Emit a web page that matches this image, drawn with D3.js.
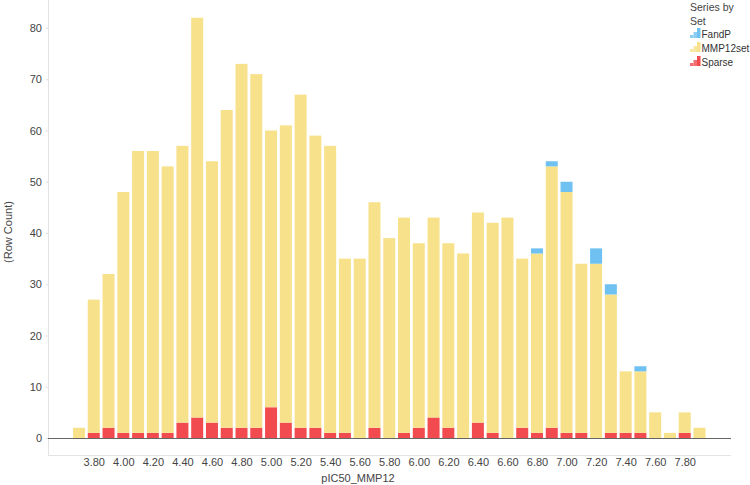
<!DOCTYPE html>
<html>
<head>
<meta charset="utf-8">
<script src="https://cdn.jsdelivr.net/npm/d3@7"></script>
<style>
  body { margin: 0; background: #fff; }
  svg text { font-family: "Liberation Sans", Arial, sans-serif; }
</style>
</head>
<body>
<svg id="chart"></svg>
<script>
// bin centres of pIC50_MMP12
const bins = [3.7, 3.8, 3.9, 4.0, 4.1, 4.2, 4.3, 4.4, 4.5, 4.6, 4.7, 4.8, 4.9, 5.0,
  5.1, 5.2, 5.3, 5.4, 5.5, 5.6, 5.7, 5.8, 5.9, 6.0, 6.1, 6.2, 6.3, 6.4, 6.5, 6.6,
  6.7, 6.8, 6.9, 7.0, 7.1, 7.2, 7.3, 7.4, 7.5, 7.6, 7.7, 7.8, 7.9];
const sparse = [0, 1, 2, 1, 1, 1, 1, 3, 4, 3, 2, 2, 2, 6, 3, 2, 2, 1, 1, 0, 2, 0, 1, 2,
  4, 2, 0, 3, 1, 0, 2, 1, 2, 1, 1, 0, 1, 1, 1, 0, 0, 1, 0];
const mmp12set = [2, 26, 30, 47, 55, 55, 52, 54, 78, 51, 62, 71, 69, 54, 58, 65, 57, 56,
  34, 35, 44, 39, 42, 36, 39, 36, 36, 41, 41, 43, 33, 35, 51, 47, 33, 34, 27, 12, 12,
  5, 1, 4, 2];
const fandp = [0, 0, 0, 0, 0, 0, 0, 0, 0, 0, 0, 0, 0, 0, 0, 0, 0, 0, 0, 0, 0, 0, 0, 0,
  0, 0, 0, 0, 0, 0, 0, 1, 1, 2, 0, 3, 2, 0, 1, 0, 0, 0, 0];
const seriesNames = ["Sparse", "MMP12set", "FandP"];
const seriesColors = {FandP: "#6fc1f1", MMP12set: "#f7e18a", Sparse: "#f14b50"};
const yTicks = [0, 10, 20, 30, 40, 50, 60, 70, 80];
const xTicks = [3.8, 4.0, 4.2, 4.4, 4.6, 4.8, 5.0, 5.2, 5.4, 5.6, 5.8, 6.0, 6.2, 6.4,
  6.6, 6.8, 7.0, 7.2, 7.4, 7.6, 7.8];

const W = 750, H = 485;
const svg = d3.select("#chart").attr("width", W).attr("height", H);

const x = d3.scaleLinear().domain([3.7, 7.9]).range([79, 699.5]);
const y = d3.scaleLinear().domain([0, 80]).range([438, 28]);
const barW = 12;

const rows = bins.map((b, i) => ({bin: b, Sparse: sparse[i], MMP12set: mmp12set[i], FandP: fandp[i]}));
const stacked = d3.stack().keys(seriesNames)(rows);

// frame lines
svg.append("line").attr("x1", 48.5).attr("x2", 48.5).attr("y1", 0).attr("y2", 455)
  .attr("stroke", "#e3e3e3");
svg.append("line").attr("x1", 48).attr("x2", 731).attr("y1", 455.5).attr("y2", 455.5)
  .attr("stroke", "#e3e3e3");

// bars
svg.append("g").selectAll("g").data(stacked).join("g")
  .attr("fill", d => seriesColors[d.key])
  .selectAll("rect").data(d => d.filter(s => s[1] > s[0])).join("rect")
  .attr("x", d => x(d.data.bin) - barW / 2)
  .attr("width", barW)
  .attr("y", d => y(d[1]))
  .attr("height", d => y(d[0]) - y(d[1]));

// zero line
svg.append("line").attr("x1", 48).attr("x2", 731).attr("y1", y(0) + 0.5).attr("y2", y(0) + 0.5)
  .attr("stroke", "#666");

// y axis
const yAxis = svg.append("g").attr("transform", "translate(48,0)")
  .call(d3.axisLeft(y).tickValues(yTicks).tickSize(2).tickPadding(4));
yAxis.select(".domain").remove();
yAxis.selectAll(".tick line").attr("stroke", "#ddd");
yAxis.selectAll("text").attr("font-size", 11).attr("fill", "#444")
  .attr("font-family", "Liberation Sans, Arial, sans-serif");

// x axis
const xAxis = svg.append("g").attr("transform", "translate(0,455)")
  .call(d3.axisBottom(x).tickValues(xTicks).tickFormat(d3.format(".2f")).tickSize(0).tickPadding(3));
xAxis.select(".domain").remove();
xAxis.selectAll("text").attr("font-size", 11).attr("fill", "#444")
  .attr("font-family", "Liberation Sans, Arial, sans-serif");

// axis titles
svg.append("text").attr("x", 358).attr("y", 482).attr("text-anchor", "middle")
  .attr("font-size", 11).attr("fill", "#444").text("pIC50_MMP12");
svg.append("text").attr("transform", "translate(12,232) rotate(-90)")
  .attr("text-anchor", "middle").attr("font-size", 11).attr("fill", "#444").text("(Row Count)");

// legend
const lg = svg.append("g").attr("transform", "translate(690,0)");
lg.append("text").attr("x", 0).attr("y", 11).attr("font-size", 10.5).attr("fill", "#444").text("Series by");
lg.append("text").attr("x", 0).attr("y", 25).attr("font-size", 10.5).attr("fill", "#444").text("Set");
const legendOrder = ["FandP", "MMP12set", "Sparse"];
legendOrder.forEach((k, i) => {
  const g = lg.append("g").attr("transform", `translate(0,${28 + i * 14})`);
  [3, 6, 10].forEach((h, j) => {
    g.append("rect").attr("x", j * 3.5).attr("y", 10 - h).attr("width", 3.5).attr("height", h)
      .attr("fill", seriesColors[k]).attr("opacity", j === 2 ? 1 : 0.8);
  });
  g.append("text").attr("x", 11.5).attr("y", 9.5).attr("font-size", 10).attr("fill", "#333").text(k);
});
</script>
</body>
</html>
